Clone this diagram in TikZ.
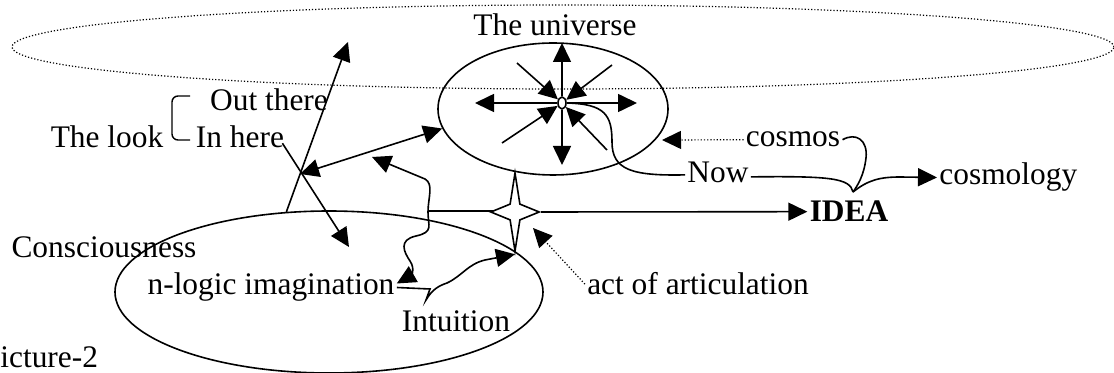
\documentclass[tikz,border=0pt]{standalone}
\usepackage{fontspec}
\setmainfont{Liberation Serif}
\usetikzlibrary{arrows.meta,shapes.geometric,calc}

\begin{document}
\begin{tikzpicture}[
  x=0.5pt, y=-0.5pt,
  font=\fontsize{15.7}{18}\selectfont,
  lbl/.style={inner sep=1pt, anchor=base},
  oval/.style={ellipse, draw, line width=0.8pt, inner sep=0pt},
  ln/.style={line width=0.8pt},
  arr/.style={ln, -{Triangle[length=9.5pt, width=9pt]}},
  arrs/.style={ln, {Triangle[length=9.5pt, width=9pt]}-{Triangle[length=9.5pt, width=9pt]}},
  dotarr/.style={line width=0.6pt, dash pattern=on 0.6pt off 1pt, -{Triangle[length=9.5pt, width=9pt, sep=0pt]}},
]
\useasboundingbox (0,0) rectangle (1114,373);

% ---------------- ovals ----------------
\node[oval, line width=0.6pt, dash pattern=on 0.6pt off 1pt, minimum width=551pt, minimum height=42pt] (sky) at (563,47) {};
\node[oval, minimum width=115pt, minimum height=66pt] (univ) at (553,109) {};
\node[oval, minimum width=214pt, minimum height=81pt] (consc) at (329,292) {};
\node[oval, fill=white, minimum width=4pt, minimum height=6pt] (core) at (562,103) {};

% ---------------- labels ----------------
\node[lbl] (title) at (555,36) {The universe};
\node[lbl] (outthere) at (269,111) {Out there};
\node[lbl] (look) at (107,148) {The look};
\node[lbl] (inhere) at (240,148) {In here};
\node[lbl] (cosmos) at (793,147) {cosmos};
\node[lbl] (now) at (718,183) {Now};
\node[lbl, anchor=base west] (cosmology) at (937,185) {cosmology};
\node[lbl, font=\fontsize{15.7}{18}\selectfont\bfseries] (idea) at (849,222) {IDEA};
\node[lbl] (consctext) at (104,258) {Consciousness};
\node[lbl] (nlogic) at (271,295) {n-logic imagination};
\node[lbl] (act) at (698,295) {act of articulation};
\node[lbl] (intu) at (456,332) {Intuition};
\node[lbl, anchor=base west, inner sep=0pt] (caption) at (0,368) {icture-2};

% ---------------- rays of the universe ----------------
\coordinate (uN) at (562,43);
\coordinate (uS) at (562,165);
\coordinate (uW) at (475,103);
\coordinate (uE) at (637,103);
\coordinate (iNW) at (517,63);
\coordinate (iNE) at (612,65);
\coordinate (iSW) at (502,143);
\coordinate (iSE) at (607,150);
\foreach \t in {uN,uS,uW,uE} \draw[arr] (core) -- (\t);
\foreach \t in {iNW,iNE,iSW,iSE} \draw[arr] (\t) -- (core);

% ---------------- Now, cosmos, cosmology ----------------
\coordinate (join) at (853,192);
\coordinate (cosTip) at (662,140);
\draw[ln] (core.east) .. controls (605,104) and (612,115) .. (612,142)
  .. controls (612,170) and (632,176) .. ([yshift=-1pt]now.west);
\draw[ln] ([yshift=-2pt]now.east) .. controls (830,176) and (850,178) .. (join);
\draw[ln] (cosmos.east) .. controls (856,132) and (868,140) .. (866,158)
  .. controls (864,175) and (858,185) .. (join);
\draw[arr] (join) .. controls (868,180) and (880,177) .. (900,177) -- (cosmology.west);
\draw[dotarr] (cosmos.west) -- (cosTip);

% ---------------- the look ----------------
\coordinate (outTip) at (348,42);
\coordinate (inTip) at (349,247);
\coordinate (cross) at (300,174);
\draw[ln, line width=0.7pt, rounded corners=3pt] (190,96) -- (172,96) -- (172,140) -- (190,140);
\draw[arr] (consc.118) -- (outTip);
\draw[arr] ([xshift=-2pt,yshift=-3pt]inhere.east) -- (inTip);
\draw[arrs] (cross) -- (univ.190);

% ---------------- articulation ----------------
\coordinate (wtop) at (372,157);
\coordinate (hstart) at (428,211);
\coordinate (actTip) at (533,228);
\draw[arrs] (wtop) -- (425,179) .. controls (434,184) and (428,198) .. (428,212)
  .. controls (428,226) and (434,232) .. (416,236)
  .. controls (398,240) and (404,252) .. (410,261)
  .. controls (416,270) and (410,276) .. ([yshift=2pt]nlogic.east);
\draw[ln] (hstart) -- (515,211);
\node[star, star points=4, star point ratio=3.5, minimum size=39pt, inner sep=0pt,
  draw, fill=white, ln, xscale=0.62, transform shape] (spark) at (515,212) {};
\draw[arr] (spark.outer point 4) -- (idea.west);
\draw[arr] (nlogic.east) -- (430,289) -- (426,300) .. controls (432,290) and (438,286) .. (447,283)
  .. controls (462,276) and (468,264) .. (485,260) -- (spark.outer point 3);
\draw[dotarr] (act.west) -- (actTip);
\end{tikzpicture}
\end{document}
